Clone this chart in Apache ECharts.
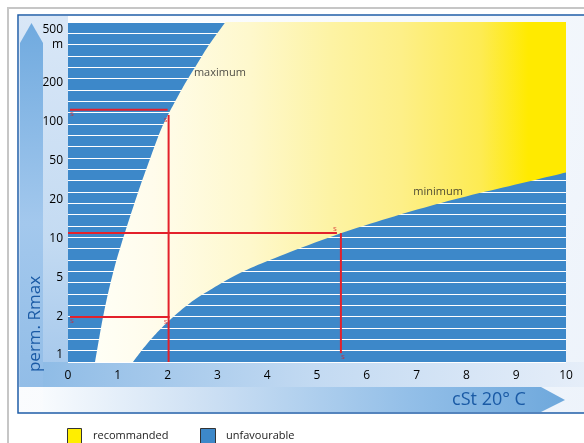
<!DOCTYPE html>
<html><head><meta charset="utf-8">
<script src="https://cdn.jsdelivr.net/npm/echarts@6/dist/echarts.min.js"></script>
<style>html,body{margin:0;padding:0;background:#fff}#c{width:584px;height:443px}</style>
</head><body><div id="c"></div>
<script>
// ---- data ----
const yTicks = [1, 2, 5, 10, 20, 50, 100, 200, 500];
const yTickLabels = ['1', '2', '5', '10', '20', '50', '100', '200', '500'];
const xTicks = [0, 1, 2, 3, 4, 5, 6, 7, 8, 9, 10];
const yAxisMinM = 0.883, yAxisMaxM = 843;
// maximum curve (cSt, m)
const maxCurveX = [0.542, 0.584, 0.703, 0.853, 1.034, 1.376, 1.616, 1.847, 2.008, 2.189, 2.369, 2.580, 2.791, 2.972, 3.163];
const maxCurveM = [0.883, 1.093, 1.97, 4.37, 8.14, 21.3, 47.4, 83.5, 113.1, 153.2, 205, 306, 457, 621, 843];
// minimum curve (cSt, m)
const minCurveX = [1.305, 1.486, 1.687, 1.888, 2.088, 2.450, 2.851, 3.454, 4.257, 5.462, 6.667, 7.871, 9.076, 10];
const minCurveM = [0.883, 1.093, 1.355, 1.634, 1.935, 2.73, 3.71, 5.40, 7.31, 10.9, 15.3, 20.8, 29.2, 37.9];
// red guide lines
const guideX = [[0.04, 2.0], [2.02, 2.02], [0.04, 2.04], [0, 5.40], [5.48, 5.48]];
const guideM = [[124, 124], [113, 0.883], [1.97, 1.97], [11.0, 11.0], [11.0, 1.035]];
// small end markers of the guide lines
const markerX = [0.04, 2.0, 0.04, 2.0, 5.36, 5.48];
const markerM = [124, 113, 1.97, 1.97, 11.0, 1.035];
// region labels
const regionLabels = ['maximum', 'minimum'];
const regionLabelX = [3.05, 7.43];
const regionLabelM = [254, 24];
const legendNames = ['recommanded', 'unfavourable'];

// ---- scale helper: equally spaced 1-2-5 ticks ----
function toIdx(v) {
  const t = yTicks;
  if (v <= t[0]) return Math.log(v / t[0]) / Math.log(t[1] / t[0]);
  for (let i = 0; i < t.length - 1; i++) if (v <= t[i + 1]) return i + Math.log(v / t[i]) / Math.log(t[i + 1] / t[i]);
  const n = t.length - 1;
  return n + Math.log(v / t[n]) / Math.log(t[n] / t[n - 1]);
}
// Catmull-Rom smoothing of already projected pixel points (drawing only)
function smoothPts(p) {
  const out = [];
  for (let i = 0; i < p.length - 1; i++) {
    const p0 = p[Math.max(0, i - 1)], p1 = p[i], p2 = p[i + 1], p3 = p[Math.min(p.length - 1, i + 2)];
    for (let s = 0; s < 10; s++) {
      const t = s / 10, t2 = t * t, t3 = t2 * t;
      out.push([0, 1].map(k => 0.5 * ((2 * p1[k]) + (-p0[k] + p2[k]) * t + (2 * p0[k] - 5 * p1[k] + 4 * p2[k] - p3[k]) * t2 + (-p0[k] + 3 * p1[k] - 3 * p2[k] + p3[k]) * t3)));
    }
  }
  out.push(p[p.length - 1]);
  return out;
}

const FONT = 'Open Sans';
const chart = echarts.init(document.getElementById('c'));

const creamFill = new echarts.graphic.LinearGradient(0, 0, 1, 0, [
  { offset: 0, color: '#fffff6' }, { offset: 0.12, color: '#fffcec' },
  { offset: 0.33, color: '#fef8cc' }, { offset: 0.5, color: '#fdf3a4' },
  { offset: 0.65, color: '#fdef88' }, { offset: 0.82, color: '#fdeb52' },
  { offset: 0.92, color: '#ffea00' }, { offset: 1, color: '#ffea00' }
]);

const series = [];
series.push({
  type: 'custom', coordinateSystem: 'cartesian2d', clip: true, z: 2,
  data: [[0, 0]],
  renderItem: function (params, api) {
    const maxP = maxCurveX.map((x, i) => api.coord([x, toIdx(maxCurveM[i])]));
    const minP = minCurveX.map((x, i) => api.coord([x, toIdx(minCurveM[i])]));
    const pts = smoothPts(maxP);
    pts.push(api.coord([xTicks[xTicks.length - 1], toIdx(yAxisMaxM)]));
    smoothPts(minP).reverse().forEach(p => pts.push(p));
    return { type: 'polygon', shape: { points: pts }, style: { fill: creamFill, stroke: null } };
  }
});
guideX.forEach((gx, k) => {
  series.push({
    type: 'line', symbol: 'none', z: 5, silent: true,
    lineStyle: { color: '#e3212b', width: 2 },
    data: gx.map((x, j) => [x, toIdx(guideM[k][j])])
  });
});
const markerOffsets = [[2, 4], [-2, 5], [2, 4], [-2, 5], [0, -4], [2, 4]];
series.push({
  type: 'scatter', symbolSize: 0, z: 6, silent: true,
  data: markerX.map((x, i) => ({ value: [x, toIdx(markerM[i])], label: { offset: markerOffsets[i] } })),
  label: { show: true, position: 'inside', formatter: 's', color: '#d7232d', fontSize: 8, fontFamily: FONT }
});
series.push({
  type: 'scatter', symbolSize: 0, z: 6, silent: true,
  data: regionLabelX.map((x, i) => ({ value: [x, toIdx(regionLabelM[i])], name: regionLabels[i] })),
  label: { show: true, position: 'inside', formatter: p => p.name, color: '#222', fontSize: 11, fontFamily: FONT }
});

const graphic = [
  { type: 'rect', z: -20, shape: { x: 8, y: 8, width: 700, height: 600 }, style: { fill: '#fff', stroke: '#c6c6c6', lineWidth: 2 } },
  { type: 'rect', z: -19, shape: { x: 18, y: 15, width: 700, height: 398 },
    style: { fill: new echarts.graphic.LinearGradient(0, 0, 1, 1, [{ offset: 0, color: '#ffffff' }, { offset: 1, color: '#eaf1fa' }]), stroke: '#1f5ea8', lineWidth: 1.5 } },
  { type: 'rect', z: -18, shape: { x: 19, y: 16, width: 49, height: 371 },
    style: { fill: new echarts.graphic.LinearGradient(0, 0, 0, 1, [{ offset: 0, color: '#d9e7f7' }, { offset: 0.6, color: '#c4dbf2' }, { offset: 1, color: '#a2c6eb' }]) } },
  { type: 'rect', z: -18, shape: { x: 43, y: 362, width: 545, height: 25 },
    style: { fill: new echarts.graphic.LinearGradient(0, 0, 1, 0, [{ offset: 0, color: '#8fbce6' }, { offset: 0.5, color: '#c3daf2' }, { offset: 1, color: '#e6eef9' }]) } },
  { type: 'polygon', z: -17, shape: { points: [[20, 43], [31.5, 23], [43, 43], [43, 387], [20, 387]] },
    style: { fill: new echarts.graphic.LinearGradient(0, 0, 0, 1, [{ offset: 0, color: '#70aadf' }, { offset: 0.55, color: '#a3c8ed' }, { offset: 1, color: '#92bde7' }]) } },
  { type: 'polygon', z: -17, shape: { points: [[43, 387], [541, 387], [565, 400], [541, 412], [43, 412]] },
    style: { fill: new echarts.graphic.LinearGradient(0, 0, 1, 0, [{ offset: 0, color: '#f8fbfe' }, { offset: 0.3, color: '#cfe1f4' }, { offset: 0.7, color: '#93bfe8' }, { offset: 1, color: '#6ea8dc' }]) } },
  { type: 'text', z: 10, x: 35, y: 324, rotation: Math.PI / 2,
    style: { text: 'perm. Rmax', fill: '#1a5aa5', font: '17px "' + FONT + '"', align: 'center', verticalAlign: 'middle' } },
  { type: 'text', z: 10, x: 489, y: 400,
    style: { text: 'cSt 20° C', fill: '#1a5aa5', font: '18px "' + FONT + '"', align: 'center', verticalAlign: 'middle' } },
  { type: 'rect', z: 10, shape: { x: 67.5, y: 428.5, width: 14, height: 15 }, style: { fill: '#ffee00', stroke: '#333', lineWidth: 1 } },
  { type: 'text', z: 10, x: 93, y: 436, style: { text: legendNames[0], fill: '#222', font: '11px "' + FONT + '"', verticalAlign: 'middle' } },
  { type: 'rect', z: 10, shape: { x: 200.5, y: 428.5, width: 15, height: 15 }, style: { fill: '#3d88c9', stroke: '#333', lineWidth: 1 } },
  { type: 'text', z: 10, x: 226, y: 436, style: { text: legendNames[1], fill: '#222', font: '11px "' + FONT + '"', verticalAlign: 'middle' } }
];

chart.setOption({
  animation: false,
  textStyle: { fontFamily: FONT },
  grid: { left: 68, right: 18, top: 22, bottom: 81 },
  xAxis: {
    type: 'value', min: xTicks[0], max: xTicks[xTicks.length - 1], interval: 1,
    axisLine: { show: false }, axisTick: { show: false }, splitLine: { show: false },
    axisLabel: { margin: 8, fontSize: 12, color: '#000', fontFamily: FONT }
  },
  yAxis: [{
    type: 'value', min: toIdx(yAxisMinM), max: toIdx(yAxisMaxM),
    axisLine: { show: false }, axisTick: { show: false }, splitLine: { show: false },
    axisLabel: {
      customValues: yTicks.map((v, i) => i),
      margin: 5, fontSize: 12, color: '#000', fontFamily: FONT,
      formatter: function (v) {
        const i = Math.round(v);
        if (i === yTicks.length - 1) return '{top|' + yTickLabels[i] + '\nm}';
        return yTickLabels[i];
      },
      rich: { top: { fontSize: 12, lineHeight: 15, align: 'right', padding: [0, 0, 14, 0], color: '#000', fontFamily: FONT } }
    }
  }, {
    type: 'value', min: 0, max: 30, interval: 1, position: 'left',
    axisLine: { show: false }, axisTick: { show: false }, axisLabel: { show: false },
    splitLine: { show: true, lineStyle: { color: '#ffffff', width: 1 } },
    splitArea: { show: true, areaStyle: { color: ['#3d88c9', '#3d88c9'] } }
  }],
  graphic: graphic,
  series: series
});
</script></body></html>
